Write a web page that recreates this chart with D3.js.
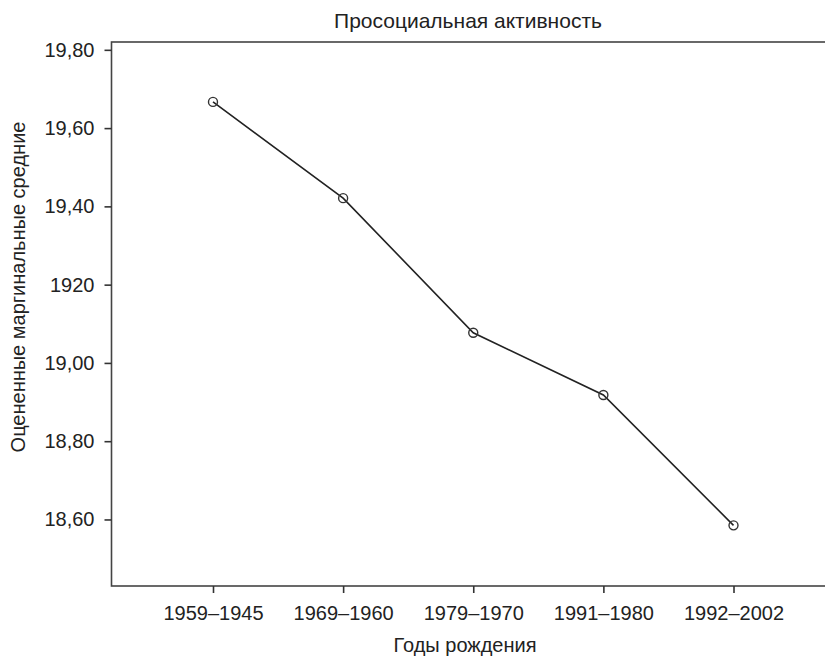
<!DOCTYPE html>
<html>
<head>
<meta charset="utf-8">
<script src="https://cdn.jsdelivr.net/npm/d3@7"></script>
<style>
  html, body { margin: 0; padding: 0; background: #fff; }
  svg { display: block; font-family: "Liberation Sans", Arial, sans-serif; }
</style>
</head>
<body>
<svg id="chart" width="825" height="657"></svg>
<script>
const categories = ["1959–1945", "1969–1960", "1979–1970", "1991–1980", "1992–2002"];
const values = [19.667, 19.421, 19.077, 18.918, 18.585];
const yTicks = [18.6, 18.8, 19.0, 19.2, 19.4, 19.6, 19.8];
const yTickLabels = ["18,60", "18,80", "19,00", "1920", "19,40", "19,60", "19,80"];
const title = "Просоциальная активность";
const xTitle = "Годы рождения";
const yTitle = "Оцененные маргинальные средние";

(function () {
const svg = d3.select("#chart");
const pL = 111.5, pT = 42, pB = 586, pR = 835;
const ink = "#222";

const x = d3.scalePoint().domain(categories).range([pL, pR]).padding(0.78);
const y = d3.scaleLinear().domain([18.43, 19.82]).range([pB, pT]);

// frame
svg.append("rect")
  .attr("x", pL).attr("y", pT)
  .attr("width", pR - pL).attr("height", pB - pT)
  .attr("fill", "none").attr("stroke", "#444").attr("stroke-width", 1.6);

// y axis
const yAxis = d3.axisLeft(y).tickValues(yTicks)
  .tickFormat((d, i) => yTickLabels[i]).tickSize(7).tickPadding(10);
const gy = svg.append("g").attr("transform", `translate(${pL},0)`).call(yAxis);
gy.select(".domain").remove();
gy.selectAll(".tick line").attr("stroke", "#333").attr("stroke-width", 1.6);
gy.selectAll(".tick text").attr("fill", ink).attr("font-size", 20)
  .attr("font-family", "Liberation Sans, Arial, sans-serif");

// x axis
const xAxis = d3.axisBottom(x).tickSize(7).tickPadding(13);
const gx = svg.append("g").attr("transform", `translate(0,${pB})`).call(xAxis);
gx.select(".domain").remove();
gx.selectAll(".tick line").attr("stroke", "#333").attr("stroke-width", 1.6);
gx.selectAll(".tick text").attr("fill", ink).attr("font-size", 20)
  .attr("font-family", "Liberation Sans, Arial, sans-serif");

// line
const data = categories.map((c, i) => ({c, v: values[i]}));
svg.append("path").datum(data)
  .attr("fill", "none").attr("stroke", ink).attr("stroke-width", 1.6)
  .attr("d", d3.line().x(d => x(d.c)).y(d => y(d.v)));

svg.selectAll("circle.pt").data(data).enter().append("circle")
  .attr("class", "pt")
  .attr("cx", d => x(d.c)).attr("cy", d => y(d.v)).attr("r", 4.5)
  .attr("fill", "none").attr("stroke", "#333").attr("stroke-width", 1.4);

// titles
svg.append("text").attr("x", 468).attr("y", 28).attr("text-anchor", "middle")
  .attr("font-size", 21).attr("fill", ink).text(title);
svg.append("text").attr("x", 465).attr("y", 652).attr("text-anchor", "middle")
  .attr("font-size", 20).attr("fill", ink).text(xTitle);
svg.append("text").attr("transform", "translate(25,287) rotate(-90)")
  .attr("text-anchor", "middle").attr("font-size", 20).attr("fill", ink).text(yTitle);
})();
</script>
</body>
</html>
